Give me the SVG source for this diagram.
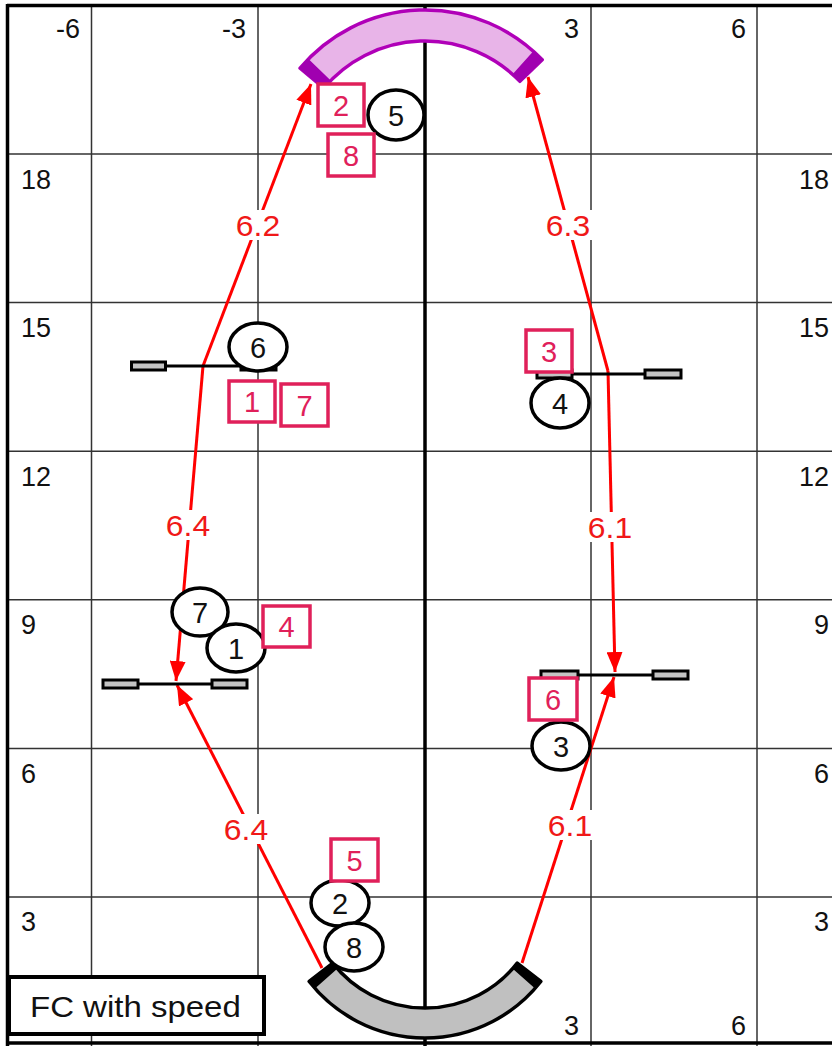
<svg xmlns="http://www.w3.org/2000/svg" width="832" height="1046" viewBox="0 0 832 1046">
<style>
.grid{stroke:#333;stroke-width:1.5}
.border{stroke:#000;stroke-width:3.5}
.ax{font-family:"Liberation Sans",Arial,sans-serif;font-size:27px;fill:#111}
.axr{font-family:"Liberation Sans",Arial,sans-serif;font-size:27px;fill:#111;text-anchor:end}
.route{stroke:#f00;stroke-width:3;fill:none;marker-end:url(#ah)}
.rlbg{fill:#fff}
.rl{font-family:"Liberation Sans",Arial,sans-serif;font-size:29px;fill:#f01818;text-anchor:middle}
.circ{fill:#fff;stroke:#000;stroke-width:3.5}
.ct{font-family:"Liberation Sans",Arial,sans-serif;font-size:29px;fill:#111;text-anchor:middle}
.box{fill:#fff;stroke:#e0205a;stroke-width:3.5}
.bt{font-family:"Liberation Sans",Arial,sans-serif;font-size:29px;fill:#e0205a;text-anchor:middle}
.bar{stroke:#000;stroke-width:3}
.wing{fill:#c4c4c4;stroke:#000;stroke-width:3}
</style>
<defs>
<marker id="ah" markerUnits="userSpaceOnUse" markerWidth="20" markerHeight="16" refX="20" refY="8" orient="auto">
<path d="M0,0 L20,8 L0,16 z" fill="#f00"/>
</marker>
</defs>
<rect width="832" height="1046" fill="#fff"/>
<g id="grid">
<line class="grid" x1="91.5" y1="6" x2="91.5" y2="1046"/>
<line class="grid" x1="258" y1="6" x2="258" y2="1046"/>
<line class="grid" x1="591" y1="6" x2="591" y2="1046"/>
<line class="grid" x1="757" y1="6" x2="757" y2="1046"/>
<line class="grid" x1="7" y1="154" x2="832" y2="154"/>
<line class="grid" x1="7" y1="302.6" x2="832" y2="302.6"/>
<line class="grid" x1="7" y1="451.2" x2="832" y2="451.2"/>
<line class="grid" x1="7" y1="599.8" x2="832" y2="599.8"/>
<line class="grid" x1="7" y1="748.4" x2="832" y2="748.4"/>
<line class="grid" x1="7" y1="897" x2="832" y2="897"/>
<line class="border" x1="7" y1="5.5" x2="832" y2="5.5"/>
<line class="border" x1="7.5" y1="4" x2="7.5" y2="1046"/>
<line class="border" x1="7" y1="1043" x2="832" y2="1043"/>
<line stroke="#000" stroke-width="3.5" x1="425" y1="6" x2="425" y2="1046"/>
</g>
<g id="axis-labels">
<text class="axr" x="80" y="38">-6</text>
<text class="axr" x="246" y="38">-3</text>
<text class="axr" x="579" y="38">3</text>
<text class="axr" x="746" y="38">6</text>
<text class="axr" x="579" y="1035">3</text>
<text class="axr" x="746" y="1035">6</text>
<text class="ax" x="21" y="189">18</text>
<text class="ax" x="21" y="337">15</text>
<text class="ax" x="21" y="486">12</text>
<text class="ax" x="21" y="634">9</text>
<text class="ax" x="21" y="783">6</text>
<text class="ax" x="21" y="931">3</text>
<text class="axr" x="829" y="189">18</text>
<text class="axr" x="829" y="337">15</text>
<text class="axr" x="829" y="486">12</text>
<text class="axr" x="829" y="634">9</text>
<text class="axr" x="829" y="783">6</text>
<text class="axr" x="829" y="931">3</text>
</g>
<g id="top-arc">
<path d="M300.1,68.2 A163,163 0 0 1 542.2,59.7 L519.9,81.3 A132,132 0 0 0 323.9,88.1 Z" fill="#e8b4e8" stroke="#b000b8" stroke-width="3.5" stroke-linejoin="round"/>
<path d="M300.1,68.2 L307.8,59.7 L330.1,81.3 L323.9,88.1 Z" fill="#a000b0" stroke="#a000b0" stroke-width="2"/>
<path d="M542.2,59.7 L534.0,51.9 L513.3,74.9 L519.9,81.3 Z" fill="#a000b0" stroke="#a000b0" stroke-width="2"/>
</g>
<g id="bottom-arc">
<path d="M309.2,981.5 A147,147 0 0 0 540.8,981.5 L517.2,963.1 A117,117 0 0 1 332.8,963.1 Z" fill="#c0c0c0" stroke="#000" stroke-width="3.5" stroke-linejoin="round"/>
<path d="M309.2,981.5 L314.5,987.6 L336.5,968.1 L332.8,963.1 Z" fill="#000" stroke="#000" stroke-width="2"/>
<path d="M540.8,981.5 L535.5,987.6 L513.5,968.1 L517.2,963.1 Z" fill="#000" stroke="#000" stroke-width="2"/>
</g>
<g id="connectors">
<path class="route" d="M203,366 L311,84"/>
<path class="route" d="M608,371 L528,77"/>
<path class="route" d="M203,366 L176,681"/>
<path class="route" d="M608,371 L615,672"/>
<path class="route" d="M322,968 L177,685"/>
<path class="route" d="M522,963 L614,677"/>
</g>
<g id="jump-left-upper">
<line class="bar" x1="133" y1="366" x2="276" y2="366"/>
<rect class="wing" x="131.5" y="362" width="34" height="8"/>
<rect class="wing" x="241" y="362" width="35" height="8"/>
</g>
<g id="jump-right-upper">
<line class="bar" x1="537" y1="374" x2="682" y2="374"/>
<rect class="wing" x="537" y="370" width="35" height="8"/>
<rect class="wing" x="645" y="370" width="36" height="8"/>
</g>
<g id="jump-left-lower">
<line class="bar" x1="103" y1="684" x2="247" y2="684"/>
<rect class="wing" x="103" y="680" width="35" height="8"/>
<rect class="wing" x="212" y="680" width="35" height="8"/>
</g>
<g id="jump-right-lower">
<line class="bar" x1="541" y1="675" x2="688" y2="675"/>
<rect class="wing" x="541" y="671" width="37" height="8"/>
<rect class="wing" x="653" y="671" width="35" height="8"/>
</g>
<g id="labels">
<rect class="rlbg" x="234" y="210" width="48" height="30"/>
<text class="rl" transform="translate(258,236) scale(1.1,1)">6.2</text>
<rect class="rlbg" x="544" y="210" width="48" height="30"/>
<text class="rl" transform="translate(568,236) scale(1.1,1)">6.3</text>
<rect class="rlbg" x="164" y="510" width="48" height="30"/>
<text class="rl" transform="translate(188,536) scale(1.1,1)">6.4</text>
<rect class="rlbg" x="586" y="512" width="48" height="30"/>
<text class="rl" transform="translate(610,538) scale(1.1,1)">6.1</text>
<rect class="rlbg" x="222" y="814" width="48" height="30"/>
<text class="rl" transform="translate(246,840) scale(1.1,1)">6.4</text>
<rect class="rlbg" x="546" y="810" width="48" height="30"/>
<text class="rl" transform="translate(570,836) scale(1.1,1)">6.1</text>
</g>
<g id="c5"><ellipse class="circ" cx="396" cy="115" rx="28" ry="25"/><text class="ct" x="396" y="125.5">5</text></g>
<g id="c6"><ellipse class="circ" cx="258" cy="347" rx="29" ry="24"/><text class="ct" x="258" y="357.5">6</text></g>
<g id="c4"><ellipse class="circ" cx="560" cy="403" rx="29" ry="25"/><text class="ct" x="560" y="413.5">4</text></g>
<g id="c7"><ellipse class="circ" cx="200" cy="612" rx="28" ry="24"/><text class="ct" x="200" y="622.5">7</text></g>
<g id="c1"><ellipse class="circ" cx="236" cy="648" rx="29" ry="24"/><text class="ct" x="236" y="658.5">1</text></g>
<g id="c3"><ellipse class="circ" cx="561" cy="746" rx="29" ry="24"/><text class="ct" x="561" y="756.5">3</text></g>
<g id="c2"><ellipse class="circ" cx="340" cy="903" rx="29" ry="23"/><text class="ct" x="340" y="913.5">2</text></g>
<g id="c8"><ellipse class="circ" cx="354" cy="947" rx="29" ry="24"/><text class="ct" x="354" y="957.5">8</text></g>
<g id="b2"><rect class="box" x="318" y="84" width="46" height="42"/><text class="bt" x="341" y="115.5">2</text></g>
<g id="b8"><rect class="box" x="328" y="134" width="46" height="42"/><text class="bt" x="351" y="165.5">8</text></g>
<g id="b1"><rect class="box" x="229" y="381" width="46" height="41"/><text class="bt" x="252" y="412">1</text></g>
<g id="b7"><rect class="box" x="281" y="384" width="47" height="42"/><text class="bt" x="304.5" y="415.5">7</text></g>
<g id="b3"><rect class="box" x="526" y="330" width="46" height="42"/><text class="bt" x="549" y="361.5">3</text></g>
<g id="b4"><rect class="box" x="263" y="606" width="47" height="41"/><text class="bt" x="286.5" y="637">4</text></g>
<g id="b6"><rect class="box" x="529" y="678" width="48" height="42"/><text class="bt" x="553" y="709.5">6</text></g>
<g id="b5"><rect class="box" x="331" y="839" width="47" height="42"/><text class="bt" x="354.5" y="870.5">5</text></g>
<g id="legend">
<rect x="9" y="977" width="255" height="57" fill="#fff" stroke="#000" stroke-width="4"/>
<text transform="translate(30,1017) scale(1.1,1)" font-family="Liberation Sans, Arial, sans-serif" font-size="30" fill="#111">FC with speed</text>
</g>
</svg>
